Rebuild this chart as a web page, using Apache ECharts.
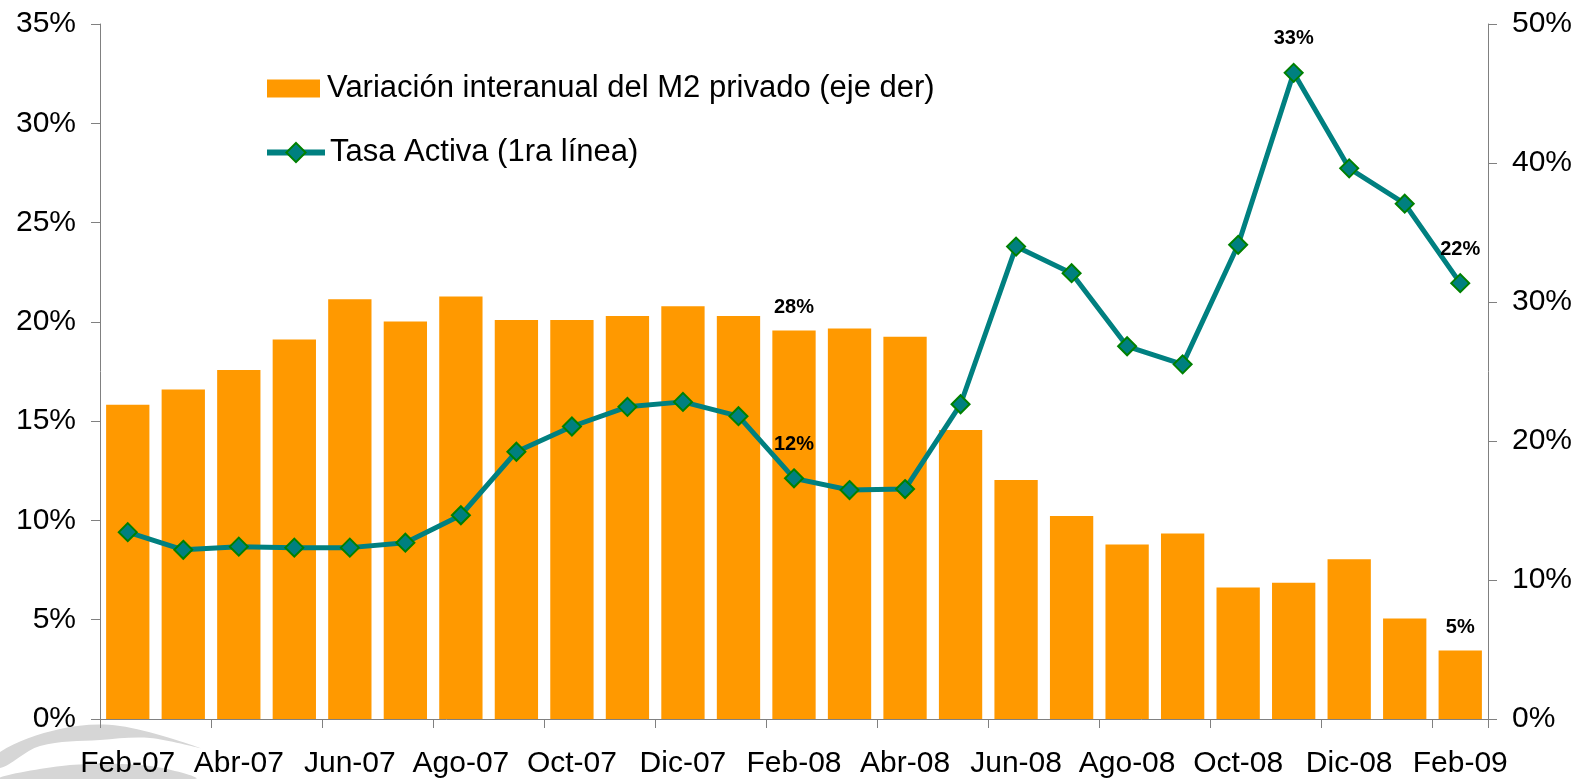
<!DOCTYPE html>
<html>
<head>
<meta charset="utf-8">
<script src="https://cdn.jsdelivr.net/npm/echarts@6/dist/echarts.min.js"></script>
<style>
  html, body { margin: 0; padding: 0; background: #fff; }
  #chart { width: 1581px; height: 779px; }
</style>
</head>
<body>
<div id="chart"></div>
<script>
// categorias mensuales
const months = [
  'Feb-07', 'Mar-07', 'Abr-07', 'May-07', 'Jun-07', 'Jul-07', 'Ago-07', 'Sep-07',
  'Oct-07', 'Nov-07', 'Dic-07', 'Ene-08', 'Feb-08', 'Mar-08', 'Abr-08', 'May-08',
  'Jun-08', 'Jul-08', 'Ago-08', 'Sep-08', 'Oct-08', 'Nov-08', 'Dic-08', 'Ene-09',
  'Feb-09',
];
// variacion interanual M2 privado (eje der), %
const m2Privado = [
  22.6, 23.7, 25.1, 27.3, 30.2, 28.6, 30.4, 28.7, 28.7, 29.0, 29.7, 29.0, 27.95,
  28.1, 27.5, 20.8, 17.2, 14.6, 12.55, 13.35, 9.46, 9.8, 11.5, 7.23, 4.93,
];
// tasa activa 1ra linea (eje izq), %
const tasaActiva = [
  9.41, 8.52, 8.68, 8.63, 8.63, 8.88, 10.26, 13.46, 14.73, 15.72, 15.97, 15.25,
  12.12, 11.53, 11.58, 15.85, 23.79, 22.45, 18.77, 17.86, 23.88, 32.54, 27.73,
  25.95, 21.95,
];
// puntos con etiqueta
const m2Labeled = [12, 24];
const tasaLabeled = [12, 21, 24];
// ticks de los ejes
const leftTicks = [0, 5, 10, 15, 20, 25, 30, 35];
const rightTicks = [0, 10, 20, 30, 40, 50];

const font = '"Liberation Sans", Arial, sans-serif';
const axisColor = '#808080';

const pointLabel = {
  show: true,
  position: 'top',
  color: '#000',
  fontFamily: font,
  fontSize: 20,
  fontWeight: 'bold',
  formatter: (p) => Math.round(p.value) + '%',
};

const yAxisBase = (ticks, position) => ({
  type: 'value',
  position,
  min: ticks[0],
  max: ticks[ticks.length - 1],
  interval: ticks[1] - ticks[0],
  splitLine: { show: false },
  axisLine: { show: true, lineStyle: { color: axisColor, width: 1 } },
  axisTick: { show: true, length: 9, lineStyle: { color: axisColor } },
  axisLabel: {
    formatter: '{value}%',
    color: '#000',
    fontFamily: font,
    fontSize: 30,
    margin: 24,
  },
});

const chart = echarts.init(document.getElementById('chart'));
chart.setOption({
  animation: false,
  backgroundColor: '#fff',
  grid: {
    left: 100,
    right: 93,
    top: 24,
    bottom: 60,
    outerBoundsMode: 'none',
  },
  // logo de fondo (esquina inferior izquierda)
  graphic: [
    {
      type: 'polygon',
      z: -10,
      shape: {
        smooth: 0.35,
        points: [[0, 752], [60, 729], [120, 726], [200, 748], [150, 738], [100, 740], [40, 746], [0, 768]],
      },
      style: { fill: '#d6d6d6' },
    },
    {
      type: 'polygon',
      z: -10,
      shape: {
        smooth: 0.35,
        points: [[0, 779], [70, 765], [150, 766], [195, 779]],
      },
      style: { fill: '#d6d6d6' },
    },
  ],
  legend: [
    {
      left: 267,
      top: 73,
      padding: 0,
      icon: 'rect',
      itemWidth: 53,
      itemHeight: 18,
      data: ['Variación interanual del M2 privado (eje der)'],
      textStyle: { color: '#000', fontFamily: font, fontSize: 31, padding: [0, 0, 0, 2] },
    },
    {
      left: 264,
      top: 137,
      padding: 0,
      itemWidth: 58,
      itemHeight: 24,
      lineStyle: { width: 6 },
      data: ['Tasa Activa (1ra línea)'],
      textStyle: { color: '#000', fontFamily: font, fontSize: 31 },
    },
  ],
  xAxis: {
    type: 'category',
    data: months,
    boundaryGap: true,
    axisLine: { lineStyle: { color: axisColor, width: 1 } },
    axisTick: {
      show: true,
      interval: 1,
      length: 9,
      lineStyle: { color: axisColor },
    },
    axisLabel: {
      interval: 1,
      color: '#000',
      fontFamily: font,
      fontSize: 30,
      margin: 30,
    },
  },
  yAxis: [yAxisBase(leftTicks, 'left'), yAxisBase(rightTicks, 'right')],
  series: [
    {
      name: 'Variación interanual del M2 privado (eje der)',
      type: 'bar',
      yAxisIndex: 1,
      barWidth: '78%',
      itemStyle: { color: '#FF9900' },
      data: m2Privado.map((v, i) => ({
        value: v,
        label: m2Labeled.includes(i) ? { ...pointLabel, distance: 13 } : { show: false },
      })),
    },
    {
      name: 'Tasa Activa (1ra línea)',
      type: 'line',
      yAxisIndex: 0,
      symbol: 'diamond',
      symbolSize: 18,
      lineStyle: { color: '#008080', width: 5 },
      itemStyle: { color: '#008080', borderColor: '#008000', borderWidth: 2 },
      z: 5,
      data: tasaActiva.map((v, i) => ({
        value: v,
        label: tasaLabeled.includes(i) ? { ...pointLabel, distance: 14 } : { show: false },
      })),
    },
  ],
});
</script>
</body>
</html>
